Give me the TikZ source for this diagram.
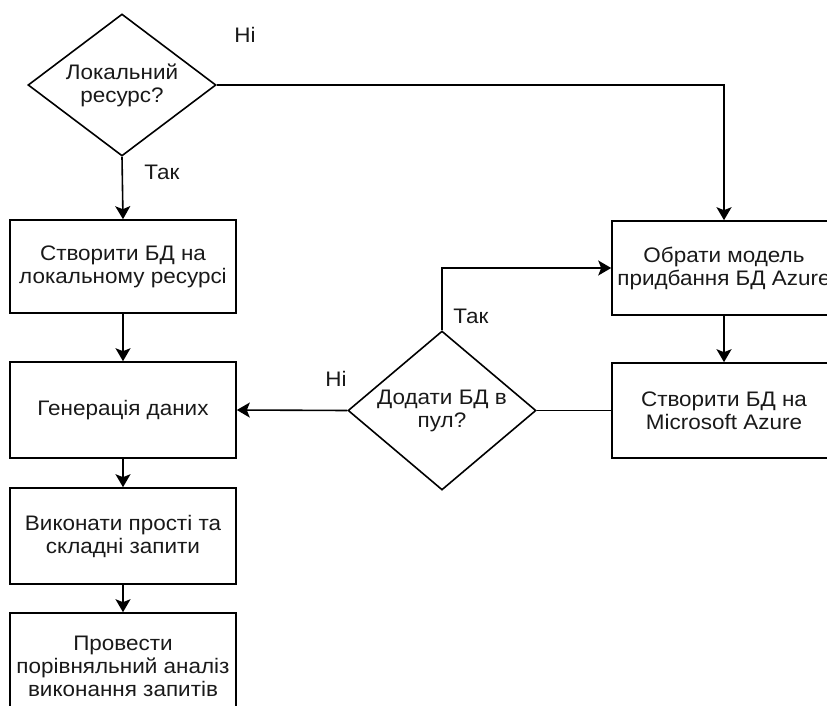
\documentclass[tikz,border=0pt]{standalone}
\usepackage{fontspec}
\setmainfont{Liberation Sans}[FakeStretch=1.07]
\usetikzlibrary{shapes.geometric,arrows.meta}
\begin{document}
\begin{tikzpicture}[x=1pt,y=-1pt,
  txt/.style={font=\fontsize{21}{23}\selectfont, text=black!90},
  box/.style={draw, line width=1.6pt, rectangle, align=center, inner sep=0pt, txt},
  decision/.style={draw, line width=1.6pt, diamond, align=center, inner sep=0pt, txt},
  arr/.style={line width=1.6pt, -{Stealth[length=13pt,width=15pt,inset=3pt]}},
  link/.style={line width=1.6pt},
  lbl/.style={txt, inner sep=0pt}
]
\useasboundingbox (0,0) rectangle (827,706);
\begin{scope}
\clip (0,0) rectangle (827,706);

% left column
\node[decision, minimum width=188pt, minimum height=142pt, aspect=1.32] (d1) at (122,85) {Локальний\\ресурс?};
\node[box, minimum width=226pt, minimum height=93pt] (b1) at (123,266.5) {Створити БД на\\локальному ресурсі};
\node[box, minimum width=226pt, minimum height=96pt] (b2) at (123,410) {Генерація даних};
\node[box, minimum width=226pt, minimum height=96pt] (b3) at (123,536) {Виконати прості та\\складні запити};
\node[box, minimum width=226pt, minimum height=106pt] (b4) at (123,666) {Провести\\порівняльний аналіз\\виконання запитів};

% right column
\node[box, minimum width=224pt, minimum height=94pt] (b5) at (724,268) {Обрати модель\\придбання БД Azure};
\node[box, minimum width=224pt, minimum height=95pt] (b6) at (724,410.5) {Створити БД на\\Microsoft Azure};

% pool decision
\node[decision, minimum width=188pt, minimum height=159pt, aspect=1.18] (d2) at (442,410.5) {Додати БД в\\пул?};

% connectors
\draw[arr] (d1.south) -- (b1.north);
\draw[arr] (d1.east) -| (b5.north);
\draw[arr] (b1.south) -- (b2.north);
\draw[arr] (b2.south) -- (b3.north);
\draw[arr] (b3.south) -- (b4.north);
\draw[arr] (b5.south) -- (b6.north);
\draw[link] (b6.west) -- (d2.east);
\draw[arr] (d2.west) -- (b2.east);
\draw[arr] (d2.north) |- (b5.west);

% branch labels
\node[lbl] (l1) at (245,35) {Ні};
\node[lbl] (l2) at (162,172) {Так};
\node[lbl] (l3) at (336,379) {Ні};
\node[lbl] (l4) at (471,316) {Так};
\end{scope}
\end{tikzpicture}
\end{document}
